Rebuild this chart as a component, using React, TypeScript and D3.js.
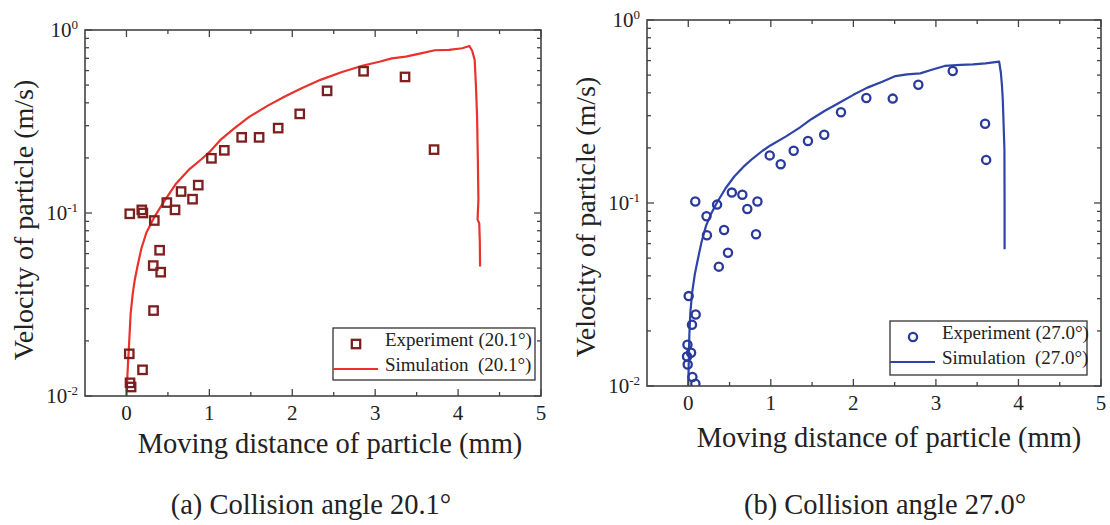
import React from 'react';
import * as d3 from 'd3';

// (a) collision angle 20.1°
const expA_x = [0.04, 0.185, 0.198, 0.336, 0.487, 0.586, 0.659, 0.797, 0.866, 1.025, 1.18, 1.39, 1.6, 1.83, 2.09, 2.42, 2.86, 3.36, 3.71, 0.4, 0.323, 0.413, 0.327, 0.034, 0.194, 0.043, 0.056];
const expA_y = [0.099, 0.104, 0.1, 0.091, 0.114, 0.104, 0.131, 0.119, 0.142, 0.199, 0.22, 0.259, 0.259, 0.291, 0.348, 0.465, 0.595, 0.554, 0.222, 0.0626, 0.0516, 0.0475, 0.0293, 0.017, 0.0139, 0.0118, 0.0112];
const simA_x = [0, 0.01, 0.02, 0.03, 0.05, 0.075, 0.1, 0.14, 0.18, 0.24, 0.33, 0.45, 0.6, 0.75, 0.9, 1.0, 1.13, 1.3, 1.48, 1.7, 1.91, 2.1, 2.34, 2.6, 2.855, 3.05, 3.2, 3.37, 3.55, 3.72, 3.89, 4.05, 4.136, 4.17, 4.2, 4.215, 4.229, 4.238, 4.245, 4.235, 4.255, 4.262, 4.265];
const simA_y = [0.01, 0.0125, 0.0155, 0.0185, 0.028, 0.036, 0.043, 0.053, 0.064, 0.078, 0.094, 0.115, 0.145, 0.172, 0.196, 0.215, 0.25, 0.29, 0.335, 0.385, 0.433, 0.478, 0.534, 0.59, 0.64, 0.671, 0.7, 0.715, 0.745, 0.775, 0.778, 0.795, 0.818, 0.77, 0.686, 0.5, 0.336, 0.2, 0.118, 0.092, 0.088, 0.07, 0.051];

// (b) collision angle 27.0°
const expB_x = [0.085, 0.221, 0.226, 0.349, 0.434, 0.37, 0.481, 0.528, 0.655, 0.715, 0.838, 0.821, 0.987, 1.12, 1.277, 1.45, 1.647, 1.85, 2.157, 2.477, 2.787, 3.204, 3.596, 3.609, 0.005, 0.09, 0.045, -0.01, 0.034, -0.015, -0.007, 0.05, 0.086];
const expB_y = [0.102, 0.0846, 0.0666, 0.098, 0.0712, 0.0449, 0.0535, 0.114, 0.111, 0.0928, 0.102, 0.0675, 0.182, 0.163, 0.193, 0.218, 0.236, 0.313, 0.375, 0.372, 0.443, 0.526, 0.271, 0.172, 0.031, 0.0246, 0.0216, 0.0168, 0.0152, 0.0145, 0.0131, 0.0112, 0.0103];
const simB_x = [0, 0.005, 0.013, 0.025, 0.045, 0.08, 0.115, 0.16, 0.215, 0.28, 0.345, 0.45, 0.56, 0.67, 0.78, 0.9, 1.0, 1.19, 1.35, 1.49, 1.65, 1.83, 2.0, 2.17, 2.35, 2.51, 2.65, 2.81, 2.95, 3.106, 3.3, 3.45, 3.6, 3.766, 3.787, 3.8, 3.81, 3.82, 3.83, 3.832, 3.832];
const simB_y = [0.01, 0.013, 0.019, 0.025, 0.032, 0.041, 0.049, 0.061, 0.075, 0.088, 0.1, 0.12, 0.14, 0.158, 0.175, 0.193, 0.207, 0.232, 0.258, 0.287, 0.318, 0.353, 0.39, 0.427, 0.46, 0.494, 0.505, 0.511, 0.535, 0.561, 0.568, 0.572, 0.58, 0.592, 0.515, 0.44, 0.368, 0.27, 0.196, 0.1, 0.0558];

const xTicks = [0, 1, 2, 3, 4, 5];
const xMinor = [0.5, 1.5, 2.5, 3.5, 4.5];
const yDecades = [0, -1, -2];
const yMinorMult = [2, 3, 4, 5, 6, 7, 8, 9];

const FONT = "'Liberation Serif', 'DejaVu Serif', serif";

type PanelProps = {
  id: string;
  box: [number, number, number, number];
  ex: number[]; ey: number[]; sx: number[]; sy: number[];
  marker: 'square' | 'circle';
  markColor: string; lineColor: string;
  legend: [number, number, number, number];
  expLabel: string; simLabel: string;
  xTitle: [number, number]; yTitle: [number, number];
  caption: string; capX: number; xLabelY: number;
};

const Marker = ({ kind, x, y, color }: { kind: string; x: number; y: number; color: string }) =>
  kind === 'square'
    ? <rect x={x - 4.2} y={y - 4.2} width={8.4} height={8.4} fill="none" stroke={color} strokeWidth={2.3} />
    : <circle cx={x} cy={y} r={4.1} fill="none" stroke={color} strokeWidth={2.3} />;

const Panel = (p: PanelProps) => {
  const [left, top, right, bottom] = p.box;
  const x = d3.scaleLinear().domain([-0.5, 5]).range([left, right]);
  const y = d3.scaleLog().domain([0.01, 1]).range([bottom, top]);
  const line = d3.line<number>().x((i) => x(p.sx[i])).y((i) => y(p.sy[i]));
  const axisColor = '#444';
  const minorY = [-2, -1].flatMap((d) => yMinorMult.map((m) => m * Math.pow(10, d)));
  const [lx, ly, lw, lh] = p.legend;
  const txt = { fontFamily: FONT, fill: '#222' };

  return (
    <g>
      <defs>
        <clipPath id={p.id}>
          <rect x={left} y={top} width={right - left} height={bottom - top} />
        </clipPath>
      </defs>

      <g clipPath={`url(#${p.id})`}>
        <path d={line(d3.range(p.sx.length)) || ''} fill="none" stroke={p.lineColor} strokeWidth={2.2} strokeLinejoin="round" />
        {p.ex.map((v, i) => (
          <Marker key={i} kind={p.marker} x={x(v)} y={y(p.ey[i])} color={p.markColor} />
        ))}
      </g>

      <rect x={left} y={top} width={right - left} height={bottom - top} fill="none" stroke={axisColor} strokeWidth={1.6} />

      {/* x ticks, inside, top and bottom */}
      {xTicks.map((t) => (
        <g key={'xt' + t}>
          <line x1={x(t)} x2={x(t)} y1={bottom} y2={bottom - 7} stroke={axisColor} strokeWidth={1.3} />
          <line x1={x(t)} x2={x(t)} y1={top} y2={top + 7} stroke={axisColor} strokeWidth={1.3} />
          <text x={x(t)} y={p.xLabelY} textAnchor="middle" fontSize={21} style={txt}>{t}</text>
        </g>
      ))}
      {xMinor.map((t) => (
        <g key={'xm' + t}>
          <line x1={x(t)} x2={x(t)} y1={bottom} y2={bottom - 4} stroke={axisColor} strokeWidth={1.3} />
          <line x1={x(t)} x2={x(t)} y1={top} y2={top + 4} stroke={axisColor} strokeWidth={1.3} />
        </g>
      ))}

      {/* y ticks, log */}
      {yDecades.map((d) => (
        <g key={'yt' + d}>
          <line x1={left} x2={left + 7} y1={y(Math.pow(10, d))} y2={y(Math.pow(10, d))} stroke={axisColor} strokeWidth={1.3} />
          <line x1={right} x2={right - 7} y1={y(Math.pow(10, d))} y2={y(Math.pow(10, d))} stroke={axisColor} strokeWidth={1.3} />
          <text x={left - 7} y={y(Math.pow(10, d)) + 7} textAnchor="end" fontSize={21} style={txt}>
            10<tspan dy={-8.5} fontSize={13}>{d === 0 ? '0' : '-' + Math.abs(d)}</tspan>
          </text>
        </g>
      ))}
      {minorY.map((v, i) => (
        <g key={'ym' + i}>
          <line x1={left} x2={left + 4} y1={y(v)} y2={y(v)} stroke={axisColor} strokeWidth={1.3} />
          <line x1={right} x2={right - 4} y1={y(v)} y2={y(v)} stroke={axisColor} strokeWidth={1.3} />
        </g>
      ))}

      {/* legend */}
      <rect x={lx} y={ly} width={lw} height={lh} fill="#fff" stroke="#333" strokeWidth={1.3} />
      <Marker kind={p.marker} x={lx + 23} y={ly + 16} color={p.markColor} />
      <text x={lx + 52} y={ly + 18} fontSize={19} style={txt}>{p.expLabel}</text>
      <line x1={lx} x2={lx + 45} y1={ly + 41} y2={ly + 41} stroke={p.lineColor} strokeWidth={2.2} />
      <text x={lx + 52} y={ly + 43} fontSize={19} style={{ ...txt, whiteSpace: 'pre' }}>{p.simLabel}</text>

      {/* titles */}
      <text x={p.xTitle[0]} y={p.xTitle[1]} textAnchor="middle" fontSize={28.5} style={txt}>
        Moving distance of particle (mm)
      </text>
      <text transform={`translate(${p.yTitle[0]},${p.yTitle[1]}) rotate(-90)`} textAnchor="middle" fontSize={28} style={txt}>
        Velocity of particle (m/s)
      </text>
      <text x={p.capX} y={514} textAnchor="middle" fontSize={28.5} style={txt}>{p.caption}</text>
    </g>
  );
};

export default function App() {
  return (
    <div style={{ position: 'absolute', left: 0, top: 0 }}>
      <svg width={1110} height={525} style={{ display: 'block', background: '#fff' }}>
        <Panel
          id="clipA" box={[85, 30, 541, 396]}
          ex={expA_x} ey={expA_y} sx={simA_x} sy={simA_y}
          marker="square" markColor="#7e1f1f" lineColor="#e8322b"
          legend={[333, 328, 202, 52]}
          expLabel="Experiment (20.1°)" simLabel="Simulation  (20.1°)"
          xTitle={[330, 453]} yTitle={[33, 220]}
          caption="(a) Collision angle 20.1°" capX={311} xLabelY={420}
        />
        <Panel
          id="clipB" box={[647, 20, 1101, 386]}
          ex={expB_x} ey={expB_y} sx={simB_x} sy={simB_y}
          marker="circle" markColor="#2a3a9c" lineColor="#2e44a6"
          legend={[890, 321, 197, 54]}
          expLabel="Experiment (27.0°)" simLabel="Simulation  (27.0°)"
          xTitle={[889, 447]} yTitle={[595, 217]}
          caption="(b) Collision angle 27.0°" capX={885} xLabelY={410}
        />
      </svg>
    </div>
  );
}
